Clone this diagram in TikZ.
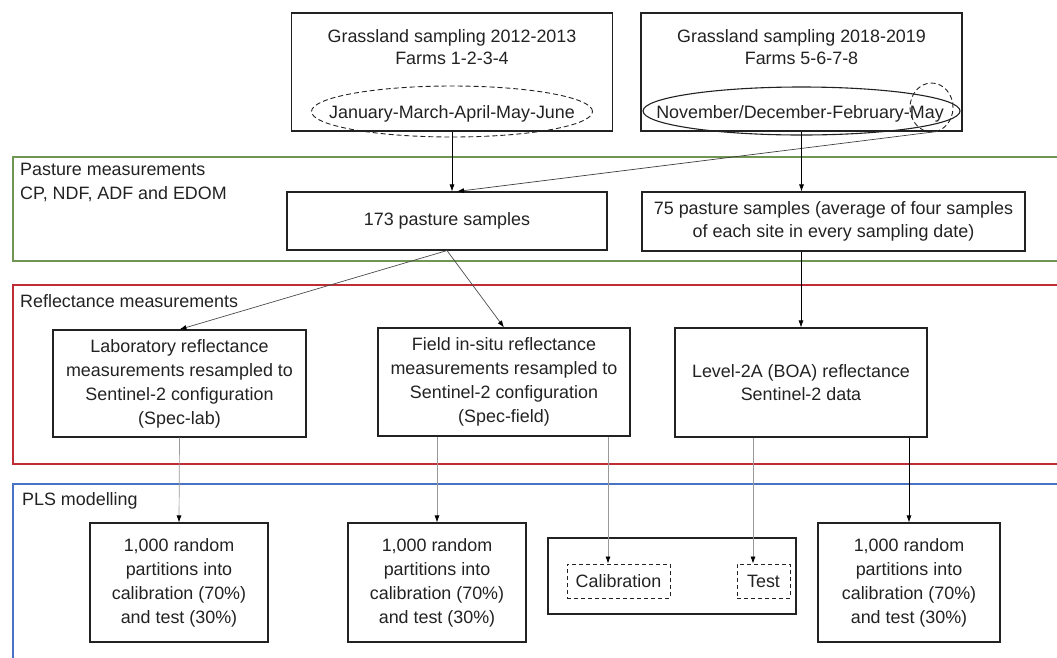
\documentclass[tikz,border=0pt]{standalone}
\usepackage{fontspec}
\setmainfont{Liberation Sans}
\usetikzlibrary{shapes.geometric,arrows.meta}

\definecolor{pastgreen}{RGB}{112,150,82}
\definecolor{reflred}{RGB}{192,44,52}
\definecolor{plsblue}{RGB}{72,114,196}
\definecolor{ink}{RGB}{34,34,34}

\tikzset{
  box/.style={draw=ink, line width=1.1pt, align=center, inner sep=2pt},
  dbox/.style={draw=ink, dash pattern=on 5pt off 3pt, line width=0.9pt, inner sep=0pt},
  band/.style={line width=1.4pt},
  lbl/.style={anchor=west, align=left, inner sep=0pt},
  link/.style={-{Latex[length=7pt,width=5pt,color=black]}, line width=0.7pt},
  glink/.style={link, draw=black!40},
}

\begin{document}
\begin{tikzpicture}[x=1pt, y=-1pt, font=\fontsize{17.9}{24}\selectfont, text=ink]
\useasboundingbox (0,0) rectangle (1057,657);
% the three bands, open on the right
\draw[band, draw=pastgreen] (1070,157) -| (13,261) -- (1070,261);
\draw[band, draw=reflred] (1070,285) -| (13,464) -- (1070,464);
\draw[band, draw=plsblue] (1070,484) -| (13,670);
\node[lbl] (pastlbl) at (20,182) {Pasture measurements\\CP, NDF, ADF and EDOM};
\node[lbl, anchor=base west] (refllbl) at (20,307) {Reflectance measurements};
\node[lbl, anchor=base west] (plslbl) at (22,505) {PLS modelling};

% sampling campaigns
\node[box, minimum width=321pt, minimum height=118pt] (A) at (452,72) {};
\node[align=center, font=\fontsize{17.9}{22}\selectfont] (Atitle) at (452,47.5)
  {Grassland sampling 2012-2013\\Farms 1-2-3-4};
\node[ellipse, dbox, minimum width=281pt, minimum height=51pt] (jan) at (452,111.5) {};
\node[anchor=base] (jantext) at (452,118) {January-March-April-May-June};

\node[box, minimum width=321pt, minimum height=118pt] (B) at (801.5,72) {};
\node[align=center, font=\fontsize{17.9}{22}\selectfont] (Btitle) at (801.5,47.5)
  {Grassland sampling 2018-2019\\Farms 5-6-7-8};
\node[ellipse, draw=ink, line width=1.1pt, inner sep=0pt, minimum width=317pt,
  minimum height=48pt] (nov) at (801.5,111) {};
\node[anchor=base] (novtext) at (800,118) {November/December-February-May};
\node[ellipse, dbox, minimum width=43pt, minimum height=49pt] (may) at (931.5,107.5) {};

% pasture samples
\node[box, minimum width=320pt, minimum height=58pt] (C) at (447,221) {173 pasture samples};
\node[box, minimum width=383pt, minimum height=59pt, font=\fontsize{17.9}{23}\selectfont]
  (D) at (833.5,221.5) {75 pasture samples (average of four samples\\of each site in every sampling date)};

% reflectance
\node[box, minimum width=253pt, minimum height=107pt] (E) at (179.5,383.5)
  {Laboratory reflectance\\measurements resampled to\\Sentinel-2 configuration\\(Spec-lab)};
\node[box, minimum width=252pt, minimum height=108pt] (F) at (504,382)
  {Field in-situ reflectance\\measurements resampled to\\Sentinel-2 configuration\\(Spec-field)};
\node[box, minimum width=252pt, minimum height=109pt, font=\fontsize{17.9}{23}\selectfont]
  (G) at (801,382.5) {Level-2A (BOA) reflectance\\Sentinel-2 data};

% PLS modelling
\node[box, minimum width=178pt, minimum height=119pt] (H) at (179,582.5)
  {1,000 random\\partitions into\\calibration (70\%)\\and test (30\%)};
\node[box, minimum width=178pt, minimum height=119pt] (I) at (437,582.5)
  {1,000 random\\partitions into\\calibration (70\%)\\and test (30\%)};
\node[box, minimum width=248pt, minimum height=76pt] (J) at (672,576) {};
\node[dbox, dash pattern=on 4pt off 3pt, minimum width=103pt, minimum height=34pt] (cal) at (618.5,581) {Calibration};
\node[dbox, dash pattern=on 4pt off 3pt, minimum width=53pt, minimum height=34pt] (test) at (763.5,581) {Test};
\node[box, minimum width=182pt, minimum height=119pt] (K) at (909,582.5)
  {1,000 random\\partitions into\\calibration (70\%)\\and test (30\%)};

% connectors
\draw[link] (A.south) -- (A.south |- C.north);
\draw[link, draw=black!75] (may.-75) -- ([xshift=10pt]C.north);
\draw[link] (B.south) -- (B.south |- D.north);
\draw[link, draw=black!70] (C.south) -- (E.north);
\draw[link, draw=black!70] (C.south) -- (F.north);
\draw[link] (G.north |- D.south) -- (G.north);
\draw[glink] (E.south) -- (H.north);
\draw[glink] (I.north |- F.south) -- (I.north);
\draw[glink] ([xshift=104pt]F.south) -- ([xshift=104pt]F.south |- cal.north);
\draw[glink] ([xshift=-48pt]G.south) -- ([xshift=-48pt]G.south |- test.north);
\draw[link] (K.north |- G.south) -- (K.north);
\end{tikzpicture}
\end{document}
